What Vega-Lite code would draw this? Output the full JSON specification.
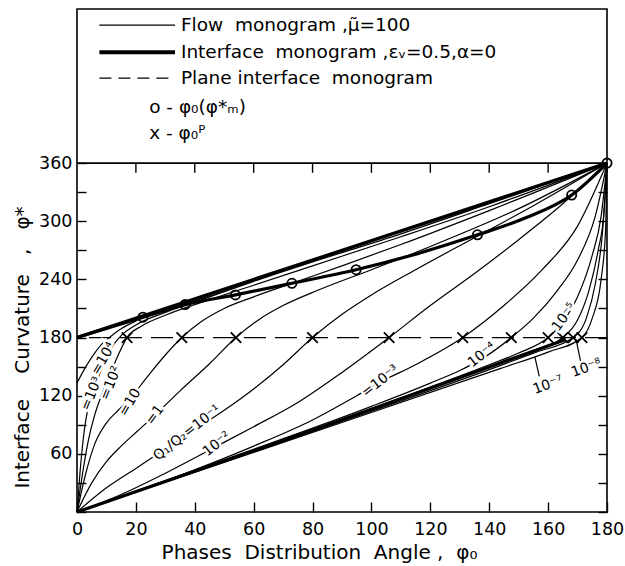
{
"$schema":"https://vega.github.io/schema/vega-lite/v6.json",
"width":530,"height":503,
"autosize":{"type":"none"},
"padding":{"left":77,"top":9,"right":18,"bottom":54},
"background":"white",
"config":{
 "view":{"stroke":"black","strokeWidth":1.6},
 "font":"DejaVu Sans",
 "axis":{"domain":false,"grid":false,"tickColor":"black","tickWidth":1.4,"labelColor":"black","labelFont":"DejaVu Sans","labelFontSize":17.5,"labelFlush":false,"titleFont":"DejaVu Sans","titleFontSize":20,"titleFontWeight":"normal","titleColor":"black"},
 "text":{"font":"DejaVu Sans","color":"black"}
},
"datasets":{
 "flow":[
  {"c":"c4","phi0":0,"phi":133},{"c":"c4","phi0":3,"phi":150},{"c":"c4","phi0":6,"phi":164},{"c":"c4","phi0":9,"phi":175},{"c":"c4","phi0":11,"phi":180},{"c":"c4","phi0":15,"phi":189},{"c":"c4","phi0":20,"phi":197},{"c":"c4","phi0":30,"phi":208},{"c":"c4","phi0":45,"phi":223},{"c":"c4","phi0":60,"phi":239},{"c":"c4","phi0":80,"phi":259},{"c":"c4","phi0":110,"phi":289},{"c":"c4","phi0":140,"phi":319},{"c":"c4","phi0":180,"phi":360},
  {"c":"c3","phi0":0,"phi":0},{"c":"c3","phi0":1,"phi":40},{"c":"c3","phi0":2,"phi":72},{"c":"c3","phi0":3,"phi":95},{"c":"c3","phi0":4.5,"phi":115},{"c":"c3","phi0":6,"phi":128},{"c":"c3","phi0":8,"phi":145},{"c":"c3","phi0":10,"phi":160},{"c":"c3","phi0":13,"phi":175},{"c":"c3","phi0":15,"phi":182},{"c":"c3","phi0":20,"phi":193},{"c":"c3","phi0":30,"phi":206},{"c":"c3","phi0":45,"phi":222},{"c":"c3","phi0":60,"phi":238},{"c":"c3","phi0":80,"phi":258},{"c":"c3","phi0":110,"phi":287},{"c":"c3","phi0":140,"phi":318},{"c":"c3","phi0":180,"phi":360},
  {"c":"c2","phi0":0,"phi":0},{"c":"c2","phi0":2,"phi":42},{"c":"c2","phi0":4,"phi":76},{"c":"c2","phi0":6,"phi":100},{"c":"c2","phi0":8,"phi":118},{"c":"c2","phi0":11,"phi":140},{"c":"c2","phi0":14,"phi":162},{"c":"c2","phi0":17,"phi":180},{"c":"c2","phi0":22,"phi":192},{"c":"c2","phi0":30,"phi":203},{"c":"c2","phi0":45,"phi":219},{"c":"c2","phi0":60,"phi":234},{"c":"c2","phi0":80,"phi":254},{"c":"c2","phi0":110,"phi":284},{"c":"c2","phi0":140,"phi":315},{"c":"c2","phi0":180,"phi":360},
  {"c":"c1","phi0":0,"phi":0},{"c":"c1","phi0":3,"phi":40},{"c":"c1","phi0":6,"phi":70},{"c":"c1","phi0":10,"phi":92},{"c":"c1","phi0":14,"phi":105},{"c":"c1","phi0":18,"phi":117},{"c":"c1","phi0":24,"phi":140},{"c":"c1","phi0":30,"phi":162},{"c":"c1","phi0":35.6,"phi":180},{"c":"c1","phi0":42,"phi":196},{"c":"c1","phi0":50,"phi":210},{"c":"c1","phi0":60,"phi":222},{"c":"c1","phi0":75,"phi":238},{"c":"c1","phi0":90,"phi":254},{"c":"c1","phi0":110,"phi":276},{"c":"c1","phi0":140,"phi":311},{"c":"c1","phi0":180,"phi":360},
  {"c":"c0","phi0":0,"phi":0},{"c":"c0","phi0":5,"phi":30},{"c":"c0","phi0":10,"phi":52},{"c":"c0","phi0":15,"phi":68},{"c":"c0","phi0":20,"phi":82},{"c":"c0","phi0":26.5,"phi":100},{"c":"c0","phi0":35,"phi":125},{"c":"c0","phi0":45,"phi":153},{"c":"c0","phi0":54,"phi":180},{"c":"c0","phi0":62,"phi":199},{"c":"c0","phi0":70,"phi":213},{"c":"c0","phi0":82,"phi":229},{"c":"c0","phi0":100,"phi":250},{"c":"c0","phi0":120,"phi":274},{"c":"c0","phi0":150,"phi":313},{"c":"c0","phi0":180,"phi":360},
  {"c":"m1","phi0":0,"phi":0},{"c":"m1","phi0":10,"phi":25},{"c":"m1","phi0":20,"phi":45},{"c":"m1","phi0":30,"phi":65},{"c":"m1","phi0":37.4,"phi":80},{"c":"m1","phi0":50,"phi":105},{"c":"m1","phi0":60,"phi":127},{"c":"m1","phi0":70,"phi":152},{"c":"m1","phi0":80,"phi":180},{"c":"m1","phi0":90,"phi":204},{"c":"m1","phi0":100,"phi":224},{"c":"m1","phi0":115,"phi":250},{"c":"m1","phi0":135,"phi":283},{"c":"m1","phi0":155,"phi":316},{"c":"m1","phi0":180,"phi":360},
  {"c":"m2","phi0":0,"phi":0},{"c":"m2","phi0":15,"phi":18},{"c":"m2","phi0":30,"phi":40},{"c":"m2","phi0":47.5,"phi":68},{"c":"m2","phi0":60,"phi":88},{"c":"m2","phi0":75,"phi":113},{"c":"m2","phi0":90,"phi":144},{"c":"m2","phi0":106,"phi":180},{"c":"m2","phi0":120,"phi":213},{"c":"m2","phi0":135,"phi":246},{"c":"m2","phi0":150,"phi":281},{"c":"m2","phi0":165,"phi":318},{"c":"m2","phi0":180,"phi":360},
  {"c":"m3","phi0":0,"phi":0},{"c":"m3","phi0":30,"phi":32},{"c":"m3","phi0":60,"phi":68},{"c":"m3","phi0":80,"phi":95},{"c":"m3","phi0":95,"phi":120},{"c":"m3","phi0":103,"phi":134},{"c":"m3","phi0":115,"phi":152},{"c":"m3","phi0":131,"phi":180},{"c":"m3","phi0":145,"phi":213},{"c":"m3","phi0":158,"phi":250},{"c":"m3","phi0":170,"phi":295},{"c":"m3","phi0":180,"phi":360},
  {"c":"m4","phi0":0,"phi":0},{"c":"m4","phi0":50,"phi":54},{"c":"m4","phi0":100,"phi":109},{"c":"m4","phi0":120,"phi":133},{"c":"m4","phi0":130,"phi":146},{"c":"m4","phi0":137.5,"phi":158},{"c":"m4","phi0":147.5,"phi":180},{"c":"m4","phi0":155,"phi":200},{"c":"m4","phi0":163,"phi":228},{"c":"m4","phi0":170,"phi":260},{"c":"m4","phi0":176,"phi":305},{"c":"m4","phi0":180,"phi":360},
  {"c":"m5","phi0":0,"phi":0},{"c":"m5","phi0":60,"phi":64},{"c":"m5","phi0":120,"phi":129},{"c":"m5","phi0":140,"phi":152},{"c":"m5","phi0":150,"phi":164},{"c":"m5","phi0":160,"phi":180},{"c":"m5","phi0":165,"phi":196},{"c":"m5","phi0":170,"phi":222},{"c":"m5","phi0":175,"phi":265},{"c":"m5","phi0":178,"phi":305},{"c":"m5","phi0":180,"phi":360},
  {"c":"m6","phi0":0,"phi":0},{"c":"m6","phi0":70,"phi":74},{"c":"m6","phi0":130,"phi":139},{"c":"m6","phi0":150,"phi":161},{"c":"m6","phi0":165,"phi":180},{"c":"m6","phi0":170,"phi":198},{"c":"m6","phi0":174,"phi":230},{"c":"m6","phi0":177,"phi":270},{"c":"m6","phi0":179,"phi":310},{"c":"m6","phi0":180,"phi":360},
  {"c":"m7","phi0":0,"phi":0},{"c":"m7","phi0":80,"phi":83},{"c":"m7","phi0":143.7,"phi":151},{"c":"m7","phi0":156,"phi":165},{"c":"m7","phi0":168.5,"phi":180},{"c":"m7","phi0":173,"phi":200},{"c":"m7","phi0":176,"phi":235},{"c":"m7","phi0":178.5,"phi":290},{"c":"m7","phi0":180,"phi":360},
  {"c":"m8","phi0":0,"phi":0},{"c":"m8","phi0":80,"phi":82},{"c":"m8","phi0":143.7,"phi":148},{"c":"m8","phi0":160,"phi":165},{"c":"m8","phi0":171.5,"phi":180},{"c":"m8","phi0":175,"phi":200},{"c":"m8","phi0":178,"phi":240},{"c":"m8","phi0":179.5,"phi":290},{"c":"m8","phi0":180,"phi":360}
 ],
 "thick":[
  {"c":"U","phi0":0,"phi":180},{"c":"U","phi0":180,"phi":360},
  {"c":"circ","phi0":0,"phi":180},{"c":"circ","phi0":22.4,"phi":201},{"c":"circ","phi0":36.7,"phi":214},{"c":"circ","phi0":53.8,"phi":224},{"c":"circ","phi0":73,"phi":236},{"c":"circ","phi0":94.8,"phi":250},{"c":"circ","phi0":115,"phi":266},{"c":"circ","phi0":136,"phi":286},{"c":"circ","phi0":152,"phi":303},{"c":"circ","phi0":168,"phi":327},{"c":"circ","phi0":180,"phi":360},
  {"c":"low","phi0":0,"phi":0},{"c":"low","phi0":80,"phi":84},{"c":"low","phi0":166,"phi":178}
 ],
 "circles":[
  {"phi0":22.4,"phi":201},{"phi0":36.7,"phi":214},{"phi0":53.8,"phi":224},{"phi0":73,"phi":236},{"phi0":94.8,"phi":250},{"phi0":136,"phi":286},{"phi0":168,"phi":327},{"phi0":180,"phi":360}
 ],
 "crosses":[
  {"phi0":17},{"phi0":35.6},{"phi0":54},{"phi0":80},{"phi0":106},{"phi0":131},{"phi0":147.5},{"phi0":160},{"phi0":165},{"phi0":168.5},{"phi0":171.5}
 ],
 "topticks":[{"phi0":20},{"phi0":40},{"phi0":60},{"phi0":80},{"phi0":100},{"phi0":120},{"phi0":140},{"phi0":160}],
 "labels":[
  {"g":"a","t":"=10³","phi0":5,"phi":122},
  {"g":"a","t":"=10²","phi0":11.5,"phi":133},
  {"g":"b","t":"=10⁴","phi0":9,"phi":158},
  {"g":"b","t":"=10","phi0":18,"phi":113},
  {"g":"c","t":"=1","phi0":26.5,"phi":100},
  {"g":"c","t":"10⁻⁵","phi0":165.5,"phi":201},
  {"g":"d","t":"Q₁/Q₂=10⁻¹","phi0":37.4,"phi":81.5},
  {"g":"d","t":"10⁻²","phi0":47.5,"phi":70},
  {"g":"d","t":"=10⁻³","phi0":103,"phi":135},
  {"g":"d","t":"10⁻⁴","phi0":137.5,"phi":162},
  {"g":"e","t":"10⁻⁷","phi0":160,"phi":131},
  {"g":"e","t":"10⁻⁸","phi0":173,"phi":148.5}
 ],
 "leaders":[
  {"phi0":157,"phi":140,"phi0b":155.5,"phib":160},
  {"phi0":171,"phi":156,"phi0b":169.5,"phib":178}
 ]
},
"resolve":{"axis":{"y":"independent"}},
"layer":[
 {"data":{"name":"flow"},
  "mark":{"type":"line","color":"black","strokeWidth":1.2,"interpolate":"monotone"},
  "encoding":{
   "x":{"field":"phi0","type":"quantitative","scale":{"domain":[0,180],"nice":false},
        "axis":{"values":[0,20,40,60,80,100,120,140,160,180],"tickSize":-10,"labelPadding":18,"title":"Phases\u00a0\u00a0Distribution\u00a0\u00a0Angle\u00a0,\u00a0\u00a0φ₀","titleX":242,"titleY":40,"titleBaseline":"middle"}},
   "y":{"field":"phi","type":"quantitative","scale":{"domain":[0,519],"nice":false},
        "axis":{"values":[0,30,60,90,120,150,180,210,240,270,300,330,360],"tickSize":-9,"labelPadding":14,"labelExpr":"datum.value > 0 && datum.value % 60 == 0 ? datum.label : ''","title":"Interface\u00a0\u00a0\u00a0\u00a0Curvature\u00a0\u00a0\u00a0,\u00a0\u00a0\u00a0φ*","titleX":-55,"titleY":338,"titleBaseline":"middle","titleAngle":-90}},
   "detail":{"field":"c"}
  }},
 {"data":{"values":[{}]},
  "mark":{"type":"rule","color":"black","strokeWidth":1.6},
  "encoding":{"y":{"datum":360,"type":"quantitative","scale":{"domain":[0,519],"nice":false},
    "axis":{"orient":"right","values":[0,30,60,90,120,150,180,210,240,270,300,330,360],"labels":false,"tickSize":-9,"title":null}}}},
 {"data":{"name":"thick"},
  "mark":{"type":"line","color":"black","strokeWidth":3.2,"interpolate":"monotone"},
  "encoding":{"x":{"field":"phi0","type":"quantitative"},"y":{"field":"phi","type":"quantitative","axis":null},"detail":{"field":"c"}}},
 {"data":{"values":[{}]},
  "mark":{"type":"rule","color":"black","strokeWidth":1.3,"strokeDash":[22,9]},
  "encoding":{"y":{"datum":180,"type":"quantitative","axis":null}}},
 {"data":{"name":"topticks"},
  "mark":{"type":"rule","color":"black","strokeWidth":1.4},
  "encoding":{"x":{"field":"phi0","type":"quantitative"},"y":{"datum":360,"type":"quantitative","axis":null},"y2":{"datum":350}}},
 {"data":{"name":"circles"},
  "mark":{"type":"point","shape":"circle","filled":false,"size":85,"strokeWidth":1.8,"color":"black","opacity":1},
  "encoding":{"x":{"field":"phi0","type":"quantitative"},"y":{"field":"phi","type":"quantitative","axis":null}}},
 {"data":{"name":"crosses"},
  "mark":{"type":"point","shape":"M-1,-1L1,1M1,-1L-1,1","filled":false,"size":110,"strokeWidth":1.8,"color":"black","opacity":1},
  "encoding":{"x":{"field":"phi0","type":"quantitative"},"y":{"datum":180,"type":"quantitative","axis":null}}},
 {"data":{"name":"leaders"},
  "mark":{"type":"rule","color":"black","strokeWidth":1.2},
  "encoding":{"x":{"field":"phi0","type":"quantitative"},"y":{"field":"phi","type":"quantitative","axis":null},"x2":{"field":"phi0b"},"y2":{"field":"phib"}}},
 {"data":{"name":"labels"},"transform":[{"filter":"datum.g=='a'"}],
  "mark":{"type":"text","angle":-68,"fontSize":14,"stroke":"white","strokeWidth":5,"fill":"white"},
  "encoding":{"x":{"field":"phi0","type":"quantitative"},"y":{"field":"phi","type":"quantitative","axis":null},"text":{"field":"t"}}},
 {"data":{"name":"labels"},"transform":[{"filter":"datum.g=='a'"}],
  "mark":{"type":"text","angle":-68,"fontSize":14,"color":"black"},
  "encoding":{"x":{"field":"phi0","type":"quantitative"},"y":{"field":"phi","type":"quantitative","axis":null},"text":{"field":"t"}}},
 {"data":{"name":"labels"},"transform":[{"filter":"datum.g=='b'"}],
  "mark":{"type":"text","angle":-60,"fontSize":14,"stroke":"white","strokeWidth":5,"fill":"white"},
  "encoding":{"x":{"field":"phi0","type":"quantitative"},"y":{"field":"phi","type":"quantitative","axis":null},"text":{"field":"t"}}},
 {"data":{"name":"labels"},"transform":[{"filter":"datum.g=='b'"}],
  "mark":{"type":"text","angle":-60,"fontSize":14,"color":"black"},
  "encoding":{"x":{"field":"phi0","type":"quantitative"},"y":{"field":"phi","type":"quantitative","axis":null},"text":{"field":"t"}}},
 {"data":{"name":"labels"},"transform":[{"filter":"datum.g=='c'"}],
  "mark":{"type":"text","angle":-54,"fontSize":14,"stroke":"white","strokeWidth":5,"fill":"white"},
  "encoding":{"x":{"field":"phi0","type":"quantitative"},"y":{"field":"phi","type":"quantitative","axis":null},"text":{"field":"t"}}},
 {"data":{"name":"labels"},"transform":[{"filter":"datum.g=='c'"}],
  "mark":{"type":"text","angle":-54,"fontSize":14,"color":"black"},
  "encoding":{"x":{"field":"phi0","type":"quantitative"},"y":{"field":"phi","type":"quantitative","axis":null},"text":{"field":"t"}}},
 {"data":{"name":"labels"},"transform":[{"filter":"datum.g=='d'"}],
  "mark":{"type":"text","angle":-38,"fontSize":14,"stroke":"white","strokeWidth":5,"fill":"white"},
  "encoding":{"x":{"field":"phi0","type":"quantitative"},"y":{"field":"phi","type":"quantitative","axis":null},"text":{"field":"t"}}},
 {"data":{"name":"labels"},"transform":[{"filter":"datum.g=='d'"}],
  "mark":{"type":"text","angle":-38,"fontSize":14,"color":"black"},
  "encoding":{"x":{"field":"phi0","type":"quantitative"},"y":{"field":"phi","type":"quantitative","axis":null},"text":{"field":"t"}}},
 {"data":{"name":"labels"},"transform":[{"filter":"datum.g=='e'"}],
  "mark":{"type":"text","angle":-20,"fontSize":14,"color":"black"},
  "encoding":{"x":{"field":"phi0","type":"quantitative"},"y":{"field":"phi","type":"quantitative","axis":null},"text":{"field":"t"}}},
 {"data":{"values":[{}]},
  "mark":{"type":"rule","color":"black","strokeWidth":1.2},
  "encoding":{"x":{"datum":7.6,"type":"quantitative"},"x2":{"datum":33.3},"y":{"datum":502.4,"type":"quantitative","axis":null}}},
 {"data":{"values":[{}]},
  "mark":{"type":"rule","color":"black","strokeWidth":4},
  "encoding":{"x":{"datum":7.6,"type":"quantitative"},"x2":{"datum":33.3},"y":{"datum":474.5,"type":"quantitative","axis":null}}},
 {"data":{"values":[{}]},
  "mark":{"type":"rule","color":"black","strokeWidth":1.3,"strokeDash":[12,7]},
  "encoding":{"x":{"datum":7.6,"type":"quantitative"},"x2":{"datum":33.3},"y":{"datum":447.7,"type":"quantitative","axis":null}}},
 {"data":{"values":[{"t":"Flow\u00a0\u00a0monogram\u00a0,μ̃=100"}]},
  "mark":{"type":"text","align":"left","baseline":"middle","fontSize":18.5},
  "encoding":{"x":{"datum":35.3,"type":"quantitative"},"y":{"datum":502.4,"type":"quantitative","axis":null},"text":{"field":"t"}}},
 {"data":{"values":[{"t":"Interface\u00a0\u00a0monogram\u00a0,εᵥ=0.5,α=0"}]},
  "mark":{"type":"text","align":"left","baseline":"middle","fontSize":18.5},
  "encoding":{"x":{"datum":35.3,"type":"quantitative"},"y":{"datum":474.5,"type":"quantitative","axis":null},"text":{"field":"t"}}},
 {"data":{"values":[{"t":"Plane\u00a0interface\u00a0\u00a0monogram"}]},
  "mark":{"type":"text","align":"left","baseline":"middle","fontSize":18.5},
  "encoding":{"x":{"datum":35.3,"type":"quantitative"},"y":{"datum":447.7,"type":"quantitative","axis":null},"text":{"field":"t"}}},
 {"data":{"values":[{"t":"o\u00a0-\u00a0φ₀(φ*ₘ)"}]},
  "mark":{"type":"text","align":"left","baseline":"middle","fontSize":18.5},
  "encoding":{"x":{"datum":24.5,"type":"quantitative"},"y":{"datum":417.8,"type":"quantitative","axis":null},"text":{"field":"t"}}},
 {"data":{"values":[{"t":"x\u00a0-\u00a0φ₀ᴾ"}]},
  "mark":{"type":"text","align":"left","baseline":"middle","fontSize":18.5},
  "encoding":{"x":{"datum":24.5,"type":"quantitative"},"y":{"datum":391,"type":"quantitative","axis":null},"text":{"field":"t"}}}
]
}
